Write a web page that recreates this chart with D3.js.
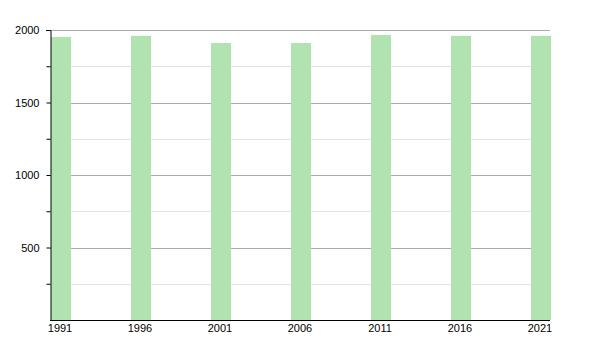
<!DOCTYPE html>
<html>
<head>
<meta charset="utf-8">
<script src="https://cdn.jsdelivr.net/npm/d3@7"></script>
<style>
  body { margin: 0; background: #fff; }
  svg { display: block; font-family: "Liberation Sans", Arial, sans-serif; }
</style>
</head>
<body>
<svg id="chart" width="600" height="350"></svg>
<script>
const years = [1991, 1996, 2001, 2006, 2011, 2016, 2021];
const population = [1952, 1960, 1910, 1910, 1966, 1960, 1960];
const majorTicks = [500, 1000, 1500, 2000];
const minorTicks = [250, 750, 1250, 1750];

const svg = d3.select("#chart");
const margin = { top: 30, right: 50, bottom: 30, left: 50 };
const width = 600 - margin.left - margin.right;
const height = 350 - margin.top - margin.bottom;
const barWidth = 20;

const g = svg.append("g").attr("transform", `translate(${margin.left},${margin.top})`);

const x = d3.scaleLinear().domain([1991, 2021]).range([0, width - barWidth]);
const y = d3.scaleLinear().domain([0, 2000]).range([height, 0]);

//minor gridlines
g.append("g")
  .selectAll("line")
  .data(minorTicks)
  .enter()
  .append("line")
  .attr("x1", 0)
  .attr("x2", width)
  .attr("y1", (d) => Math.round(y(d)) + 0.5)
  .attr("y2", (d) => Math.round(y(d)) + 0.5)
  .attr("stroke", "#e2e2e2");

//major gridlines
g.append("g")
  .selectAll("line")
  .data(majorTicks)
  .enter()
  .append("line")
  .attr("x1", 0)
  .attr("x2", width)
  .attr("y1", (d) => Math.round(y(d)) + 0.5)
  .attr("y2", (d) => Math.round(y(d)) + 0.5)
  .attr("stroke", "#aaaaaa");

//bars
g.append("g")
  .selectAll("rect")
  .data(years)
  .enter()
  .append("rect")
  .attr("x", (d) => x(d) + 1)
  .attr("y", (d, i) => y(population[i]))
  .attr("width", barWidth)
  .attr("height", (d, i) => height - y(population[i]))
  .attr("fill", "#b1e3b1");

//y axis
const yAxis = d3
  .axisLeft(y)
  .tickValues(majorTicks.concat(minorTicks).sort((a, b) => a - b))
  .tickSize(4)
  .tickSizeOuter(0)
  .tickFormat((d) => (majorTicks.includes(d) ? d : ""));
const yG = g.append("g").attr("transform", "translate(0.5,0)").call(yAxis);
yG.select(".domain").attr("stroke", "#000");
yG.selectAll(".tick line").attr("stroke", "#000");
yG.selectAll(".tick text")
  .attr("x", -11)
  .attr("fill", "#000")
  .style("font-size", "11px")
  .style("font-family", "'Liberation Sans', Arial, sans-serif");
//small tick at top
g.append("line")
  .attr("x1", -4)
  .attr("x2", 0.5)
  .attr("y1", 0.5)
  .attr("y2", 0.5)
  .attr("stroke", "#000");

//x axis baseline
g.append("line")
  .attr("x1", 0)
  .attr("x2", width)
  .attr("y1", height + 0.5)
  .attr("y2", height + 0.5)
  .attr("stroke", "#000");

//x labels
g.append("g")
  .selectAll("text")
  .data(years)
  .enter()
  .append("text")
  .attr("x", (d) => x(d) + barWidth / 2)
  .attr("y", height + 12)
  .attr("text-anchor", "middle")
  .style("font-size", "11px")
  .text((d) => d);
</script>
</body>
</html>
